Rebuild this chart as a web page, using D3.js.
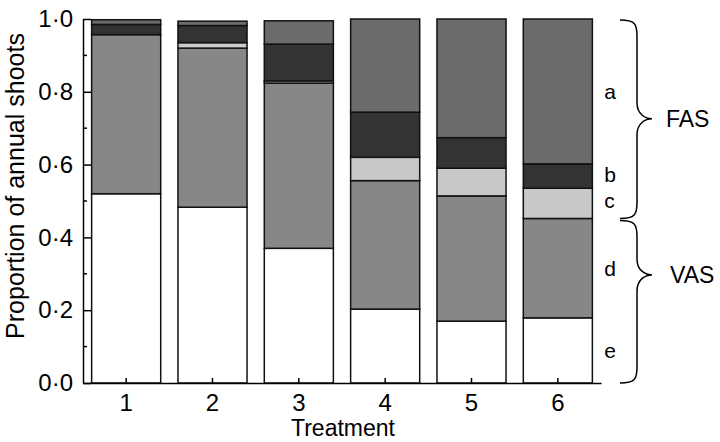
<!DOCTYPE html>
<html>
<head>
<meta charset="utf-8">
<script src="https://cdn.jsdelivr.net/npm/d3@7/dist/d3.min.js"></script>
<style>
  html, body { margin: 0; padding: 0; background: #fff; }
  svg { display: block; }
  text { font-family: "Liberation Sans", Arial, Helvetica, sans-serif; fill: #000; }
</style>
</head>
<body>
<svg id="chart" width="720" height="442"></svg>
<script>
// ---- data ----
const treatments = ["1", "2", "3", "4", "5", "6"];
const segE = [0.520, 0.483, 0.370, 0.203, 0.170, 0.179];
const segD = [0.437, 0.437, 0.454, 0.353, 0.344, 0.273];
const segC = [0.000, 0.015, 0.006, 0.064, 0.076, 0.083];
const segB = [0.028, 0.047, 0.101, 0.124, 0.084, 0.067];
const segA = [0.013, 0.012, 0.064, 0.256, 0.326, 0.398];
const segKeys = ["e", "d", "c", "b", "a"];
const segColors = ["#ffffff", "#878787", "#c9c9c9", "#333333", "#6b6b6b"];
const yTicks = [0, 0.2, 0.4, 0.6, 0.8, 1.0];
const yMinor = [0.1, 0.3, 0.5, 0.7, 0.9];
const groupLabels = ["FAS", "VAS"];

const rows = treatments.map((t, i) => ({
  t, e: segE[i], d: segD[i], c: segC[i], b: segB[i], a: segA[i]
}));

const svg = d3.select("#chart");
const FS = 23;
const x0 = 83, x1 = 601, yTop = 19, yBot = 383;

const x = d3.scaleBand().domain(treatments).range([x0, x1]).paddingInner(0.2).paddingOuter(0.1);
const y = d3.scaleLinear().domain([0, 1]).range([yBot, yTop]);
const color = d3.scaleOrdinal().domain(segKeys).range(segColors);

const stacked = d3.stack().keys(segKeys)(rows);

// bars
const g = svg.append("g");
stacked.forEach(layer => {
  g.selectAll(null).data(layer).enter().append("rect")
    .attr("x", d => x(d.data.t))
    .attr("width", x.bandwidth())
    .attr("y", d => y(d[1]))
    .attr("height", d => Math.max(0, y(d[0]) - y(d[1])))
    .attr("fill", color(layer.key))
    .attr("stroke", "#111")
    .attr("stroke-width", 1.5);
});

// y axis
const yAxis = d3.axisLeft(y).tickValues(yTicks)
  .tickFormat(d => d3.format(".1f")(d).replace(".", "\u00B7"))
  .tickSizeInner(-8).tickSizeOuter(0).tickPadding(10);
const ya = svg.append("g").attr("transform", `translate(${x0},0)`).call(yAxis);
ya.selectAll("text").style("font-size", "24px").attr("x", -10);
ya.select(".domain").attr("stroke", "#000").attr("stroke-width", 1.5);
ya.selectAll(".tick line").attr("stroke", "#000").attr("stroke-width", 1.5);
svg.append("g").selectAll("line").data(yMinor).enter().append("line")
  .attr("x1", x0).attr("x2", x0 + 4)
  .attr("y1", d => y(d)).attr("y2", d => y(d))
  .attr("stroke", "#000").attr("stroke-width", 1.5);

// x axis
const xAxis = d3.axisBottom(x).tickSizeInner(-5).tickSizeOuter(0).tickPadding(11);
const xa = svg.append("g").attr("transform", `translate(0,${yBot})`).call(xAxis);
xa.selectAll("text").style("font-size", "24px");
xa.select(".domain").attr("stroke", "#000").attr("stroke-width", 1.5);
xa.selectAll(".tick line").attr("stroke", "#000").attr("stroke-width", 1.5);

// axis titles
svg.append("text").attr("x", (x0 + x1) / 2 + 1).attr("y", 436)
  .attr("text-anchor", "middle").style("font-size", FS + "px").text("Treatment");
svg.append("text").attr("transform", `translate(24,186) rotate(-90)`)
  .attr("text-anchor", "middle").style("font-size", "25px").text("Proportion of annual shoots");

// segment letters next to last bar
const last = treatments[treatments.length - 1];
const lx = x(last) + x.bandwidth() + 12;
stacked.forEach(layer => {
  const d = layer[layer.length - 1];
  const off = layer.key === "b" ? -1 : (layer.key === "c" ? -3 : 0);
  svg.append("text").attr("x", lx).attr("y", (y(d[0]) + y(d[1])) / 2 + off)
    .attr("dy", "0.35em").style("font-size", "21px").text(layer.key);
});

// braces
function brace(yA, yB, yM) {
  const bx0 = 620, bx1 = 637, bt = 652, r = 16;
  return `M${bx0},${yA} C${bx1 - 2},${yA} ${bx1},${yA + 4} ${bx1},${yA + r}` +
    ` L${bx1},${yM - r} C${bx1},${yM - 4} ${bt - 6},${yM} ${bt},${yM}` +
    ` C${bt - 6},${yM} ${bx1},${yM + 4} ${bx1},${yM + r}` +
    ` L${bx1},${yB - r} C${bx1},${yB - 4} ${bx1 - 2},${yB} ${bx0},${yB}`;
}
const lastRow = stacked[1][stacked[1].length - 1];
const splitY = y(lastRow[1]);
const bracePos = [
  [y(1) + 1, splitY, (y(1) + splitY) / 2],
  [splitY + 2, y(0), y(0.297)]
];
bracePos.forEach((p, i) => {
  svg.append("path").attr("d", brace(p[0], p[1], p[2]))
    .attr("fill", "none").attr("stroke", "#000").attr("stroke-width", 1.5);
  svg.append("text").attr("x", 666 + (i === 1 ? 4 : 0)).attr("y", p[2]).attr("dy", "0.35em")
    .style("font-size", FS + "px").text(groupLabels[i]);
});
</script>
</body>
</html>
